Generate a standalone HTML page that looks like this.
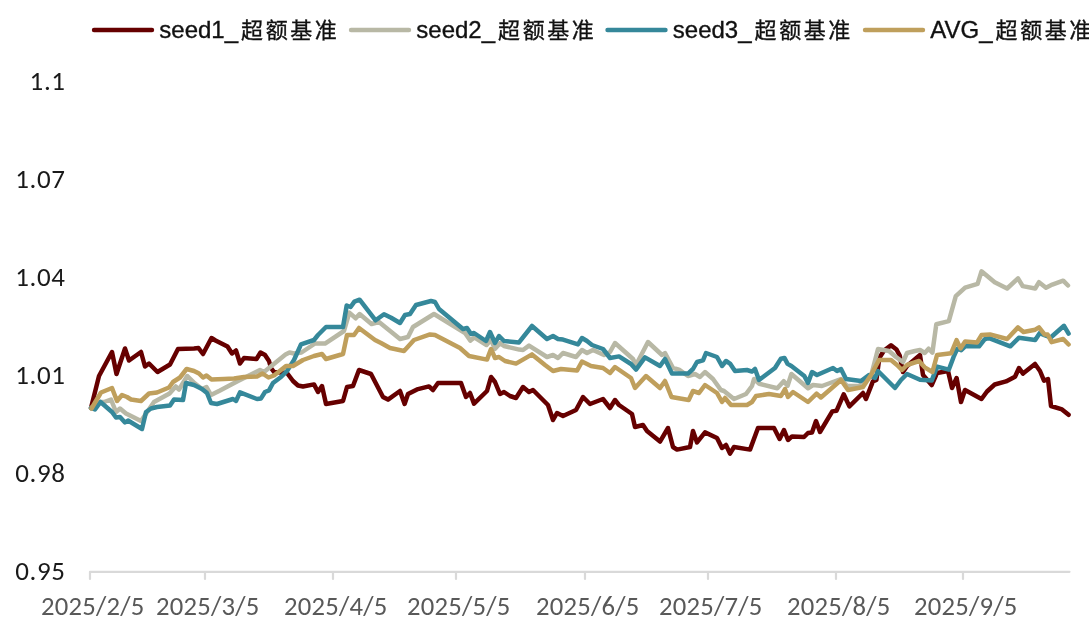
<!DOCTYPE html>
<html><head><meta charset="utf-8"><title>chart</title>
<style>
html,body{margin:0;padding:0;background:#fff;}
body{width:1089px;height:630px;overflow:hidden;}
svg{display:block;filter:blur(0.4px);}
.yl{font-family:Carlito,"Liberation Sans",sans-serif;font-size:27px;fill:#1a1a1a;letter-spacing:0.6px;}
.xl{font-family:Carlito,"Liberation Sans",sans-serif;font-size:26.7px;fill:#595959;letter-spacing:0.2px;}
.lg{font-family:"Liberation Sans","Noto Sans CJK SC",sans-serif;font-size:24px;fill:#111;stroke:#111;stroke-width:0.35px;}
.cj{font-size:22px;letter-spacing:2.6px;}
.s{fill:none;stroke-width:4.5;stroke-linejoin:round;stroke-linecap:round;}
</style></head><body>
<svg width="1089" height="630" viewBox="0 0 1089 630">

<line x1="94" y1="30" x2="152" y2="30" stroke="#660000" stroke-width="4.4" stroke-linecap="round"/>
<text class="lg" x="159.3" y="37.5">seed1_<tspan class="cj" dx="3">超额基准</tspan></text>
<line x1="351" y1="30" x2="409" y2="30" stroke="#B8B8A5" stroke-width="4.4" stroke-linecap="round"/>
<text class="lg" x="416.3" y="37.5">seed2_<tspan class="cj" dx="3">超额基准</tspan></text>
<line x1="607.5" y1="30" x2="665.5" y2="30" stroke="#35889A" stroke-width="4.4" stroke-linecap="round"/>
<text class="lg" x="672.8" y="37.5">seed3_<tspan class="cj" dx="3">超额基准</tspan></text>
<line x1="865" y1="30" x2="923" y2="30" stroke="#BF9F5C" stroke-width="4.4" stroke-linecap="round"/>
<text class="lg" x="930.3" y="37.5">AVG_<tspan class="cj" dx="3">超额基准</tspan></text>
<text class="yl" transform="translate(65.6,90.0)" text-anchor="end">1.1</text>
<text class="yl" transform="translate(65.6,187.9)" text-anchor="end">1.07</text>
<text class="yl" transform="translate(65.6,285.8)" text-anchor="end">1.04</text>
<text class="yl" transform="translate(65.6,383.7)" text-anchor="end">1.01</text>
<text class="yl" transform="translate(65.6,481.6)" text-anchor="end">0.98</text>
<text class="yl" transform="translate(65.6,579.5)" text-anchor="end">0.95</text>
<g stroke="#d9d9d9" stroke-width="2.2" fill="none" stroke-linecap="round" stroke-linejoin="round">
<path d="M90,579 V571.8 H1069.5"/>
<line x1="205" y1="572" x2="205" y2="579"/>
<line x1="333" y1="572" x2="333" y2="579"/>
<line x1="456" y1="572" x2="456" y2="579"/>
<line x1="585" y1="572" x2="585" y2="579"/>
<line x1="708" y1="572" x2="708" y2="579"/>
<line x1="836" y1="572" x2="836" y2="579"/>
<line x1="963" y1="572" x2="963" y2="579"/>
</g>
<text class="xl" x="92.7" y="614.5" text-anchor="middle">2025/2/5</text>
<text class="xl" x="207.7" y="614.5" text-anchor="middle">2025/3/5</text>
<text class="xl" x="335.7" y="614.5" text-anchor="middle">2025/4/5</text>
<text class="xl" x="458.7" y="614.5" text-anchor="middle">2025/5/5</text>
<text class="xl" x="587.7" y="614.5" text-anchor="middle">2025/6/5</text>
<text class="xl" x="710.7" y="614.5" text-anchor="middle">2025/7/5</text>
<text class="xl" x="838.7" y="614.5" text-anchor="middle">2025/8/5</text>
<text class="xl" x="965.7" y="614.5" text-anchor="middle">2025/9/5</text>
<polyline class="s" stroke="#660000" points="91,408 99,376 112,352 116.5,374 125,348.5 129,360.5 141,352 145,366.5 149,363.5 157.5,372 170,364.5 178,349 194,348.5 198.5,348 203,354 211.5,338 215.5,340.5 227.5,346.5 232,353.5 236,350.5 240,363.5 244,358 256.5,359 260.5,352.5 265,355 269,361 271,368 274,372 287,373 293,381 298,385.5 303,386.5 314,384.4 318,392 322,386 326,404 343,401 347,387 353,386 359,370 371,374 383,397 388,399.6 400,391 404.6,404 408,394 417,389.4 429,386.4 433,390 438,383 461,383 466,397 470,393 474,403.6 487,391 491,377 495,382 500,394 504,392 510,396 516,398 523,387 529,392 533,390 548,405 553,420 557,413 563,416 576,410 583,397 590,404 603,399 610,408 615,400 619,405 632,414 635,427 643,425 647,431 660,441.6 668,428 673,447 677,449.6 690,447 693,431 697,442.4 705,432.4 717,438 722,448 726,445 730,453.6 734,447 750,449.6 758,428 774,428 779.6,439 784,430 788,440 792,436.4 804,437 808,433 812,432.4 816,421 820,432 832.3,411.4 836.6,410.7 843.7,394.3 849.4,406.4 863,393 866,399 872.9,381.4 876.4,380 879.3,358 884,350.5 891,345.3 896.5,349.5 899.7,355.5 903,372 907,366 920,355 923,375 931.7,385 937,373 948,371 952,388 956.6,378 961,402 965,390 981.5,399 987,391.5 994.7,384.5 1006,381.4 1015,376.7 1019,368 1023,373.6 1035,364 1040,371 1044,380.6 1048,379 1051,406 1062,409.4 1068.6,414.8"/>
<polyline class="s" stroke="#B8B8A5" points="91,408 101,402 104,402 111,399.5 116,412 120,408.5 126,413.5 141,421 154,402 169.5,393.5 175.7,386.5 179,389.5 187.3,376 195,383.5 202,389 206.5,387 211,395 220,390.5 237,381.5 260,370 264,372 285.5,354.5 289.5,352.5 294,353.5 301.5,352.5 315,343.5 325,343.6 344,331 349.3,312.6 355.7,318.3 359.6,314 371.5,324 379,322 400,339 408,337 413,327 434,314 465,333 470.4,340.6 474.3,337.4 486.5,345 491,339.5 494.8,349 500,343.2 504,346 519.3,349.6 523,350 529,345.6 547,357 553,355 558,358 563,353 576,357 582,350 587,353 593,350 604,355 610,352 615,343 633,359 636,365 648,342 662,355 665,353 673,368 679,369.6 688,376 695,374 700,377 705,372 713,379 720.9,390 724,391 734,399 746,394 752,386 754,379 759.3,383.8 777.3,388.3 783.7,381.2 787.6,385.7 791.4,374 808,388.3 813,385 822,386 841,379 847,386 859,386 871,376 878,349 889,351 896,357 903,362 907,353 915,351 920,350 924.7,353 928.6,348.7 932.4,352.6 936.3,324.2 948.8,321.1 955.8,296.2 965.1,287.7 977.6,283.8 981.5,271.3 994.7,282.2 1007.1,288.5 1018,278.3 1022.7,286.1 1035.2,288.5 1039,282.2 1046,287.7 1052.3,284.6 1063.2,280.7 1068,285.5"/>
<polyline class="s" stroke="#35889A" points="91,408 95,409.5 100.5,402 112,412 116,417.5 120,417 125,422.5 128,420.5 142,429 146,412 151,408.5 157,407 170,405.5 174,399.5 183,400 186,383 194,385 202,389 207,393 211,403 217,404 233,399 236,401 240,392.4 257,399 261,398.4 265,392 269,390.4 273,383 281,377 287,371 294,360 301,344.4 314,340 318,335 326,327 343,327 346.7,305.5 350.6,307 354.4,301.6 359.6,299.7 375.6,320.3 384,314.2 391.1,317.7 400,323 405,315 410,314 416,305 431,301 435,302 439,309 463,329 467,328 471,334 474,333 486,341 490,332 495,343 499,336 504,341 519,342.4 532,326 547,339 553,336 558,339 563,339.6 578,344.4 582,338 587,341 592,345 603,349 610,358 619,356.4 631,364 636,369.6 645,357.4 660,366 665,359 672,373.6 688,373.6 693,369 697,362 703,360.4 706,353 717,357 722,366 726,361 730,363.6 735,371 747,370 752,371.6 755,369 759,380 775,368 780.9,358.6 784.4,357.9 787.6,363.9 791.4,366 804.3,376 808,383 812,372 817,375 833,368 837,371 841,369 846,379 861,381 869,375 875,378 878,371 895,388 901,380 907,374 920,379.8 931.7,380.6 937.1,366.6 948.8,369.7 953.5,357.2 957.3,348.7 961.2,350.2 965.1,346.3 979.1,346.3 984.6,339.3 988.5,337.8 1010.3,346.3 1018.8,337.8 1035.2,340.1 1039.8,333.1 1044.5,335.1 1050.7,337.5 1064,325.8 1068.6,333.6"/>
<polyline class="s" stroke="#BF9F5C" points="91.5,408.5 101,392.5 112,388 117,401 122,395 127,397 131,399.5 141,401 149,393.5 157,392.5 169,387.5 173,382 180,377.5 186.6,369 194,371 199,373.5 203,377.5 206.5,375.5 211.5,379.5 224,379 234,378.5 244,377 257,376.5 262.5,373.5 268.5,377.5 274,375.5 286,366 293,366 303,360 314,356 322,354 326,359 343,354 347,335 354,335 359,328 375,340 381,343 390,348 404,351 414,340 430,334.4 435,335 460,348 469,356 487,359.6 491,349 495,358 499,357 505,361 516,363.6 532,354.4 545,365 553,371 561,369 577,370.6 582,361.6 591,366 603,368 610,373 615,367 631,378 635,388 646,376 660,388 665,381 671.5,397 688.7,400 693,391 699,393 705,385 717,393 722,402 725,398 731,405 747,405 752,402 756,396 769,394 781,396 785,389 788,397 793,392 808,402 816.6,393.6 820.9,397.5 833,387 841,380 848,390 863,387 871,375 879,360 891,360 897,365 902,370 907,365 919,361 924.7,367.3 932.4,372 937.1,354.9 951.1,353.3 956.6,340.1 960.5,348.4 965.1,341.5 977,342.5 981.5,335.1 990,334.4 1007.1,339 1018,327.4 1023.5,332 1035.2,329.7 1039,327.4 1044.5,334.4 1047.6,334.4 1051.5,342.1 1063.2,339 1068.6,344.5"/>
</svg>
</body></html>
